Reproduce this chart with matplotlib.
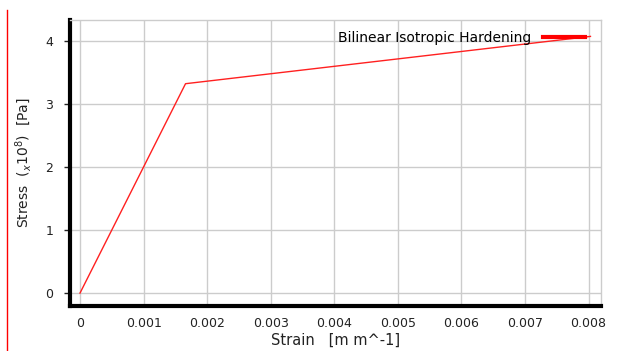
import matplotlib.pyplot as plt
from matplotlib.lines import Line2D

# bilinear isotropic hardening curve (stress in units of 1e8 Pa)
strain = [0.0, 0.00166, 0.00803]
stress = [0.0, 3.32, 4.07]
xticks = [0, 0.001, 0.002, 0.003, 0.004, 0.005, 0.006, 0.007, 0.008]
xtick_labels = ['0', '0.001', '0.002', '0.003', '0.004', '0.005', '0.006', '0.007', '0.008']
yticks = [0, 1, 2, 3, 4]

fig = plt.figure(figsize=(6.17, 3.51), dpi=100)
ax = fig.add_axes([0.1135, 0.128, 0.861, 0.815])

ax.plot(strain, stress, color='#ff2020', lw=1.0)

ax.set_xlim(-0.000157, 0.0082)
ax.set_ylim(-0.206, 4.33)
ax.set_xticks(xticks)
ax.set_xticklabels(xtick_labels)
ax.set_yticks(yticks)
ax.grid(True, color='#cccccc', lw=1.0)
ax.set_axisbelow(True)

for side in ['left', 'bottom']:
    ax.spines[side].set_linewidth(3)
    ax.spines[side].set_color('black')
for side in ['top', 'right']:
    ax.spines[side].set_linewidth(1.0)
    ax.spines[side].set_color('#cccccc')

ax.tick_params(axis='y', labelsize=9, length=4, width=1, pad=8, colors='#222222')
ax.tick_params(axis='x', labelsize=9, length=0, pad=8, colors='#222222')

ax.set_xlabel('Strain   [m m^-1]', fontsize=10.5, color='#222222', labelpad=2)
ax.set_ylabel('Stress  ($_x$10$^8$)  [Pa]', fontsize=10, color='#222222', labelpad=8)

handle = Line2D([], [], color='#ff0000', lw=3)
ax.legend([handle], ['Bilinear Isotropic Hardening'], loc='upper right',
          frameon=False, markerfirst=False, fontsize=10, handlelength=3,
          handletextpad=0.9, borderaxespad=0.2, bbox_to_anchor=(0.985, 0.99))

# marker line at the left edge of the image
fig.add_artist(Line2D([7 / 617, 7 / 617], [0, 341 / 351], color='red', lw=1,
                      transform=fig.transFigure))

fig.savefig('out.png', dpi=100)
